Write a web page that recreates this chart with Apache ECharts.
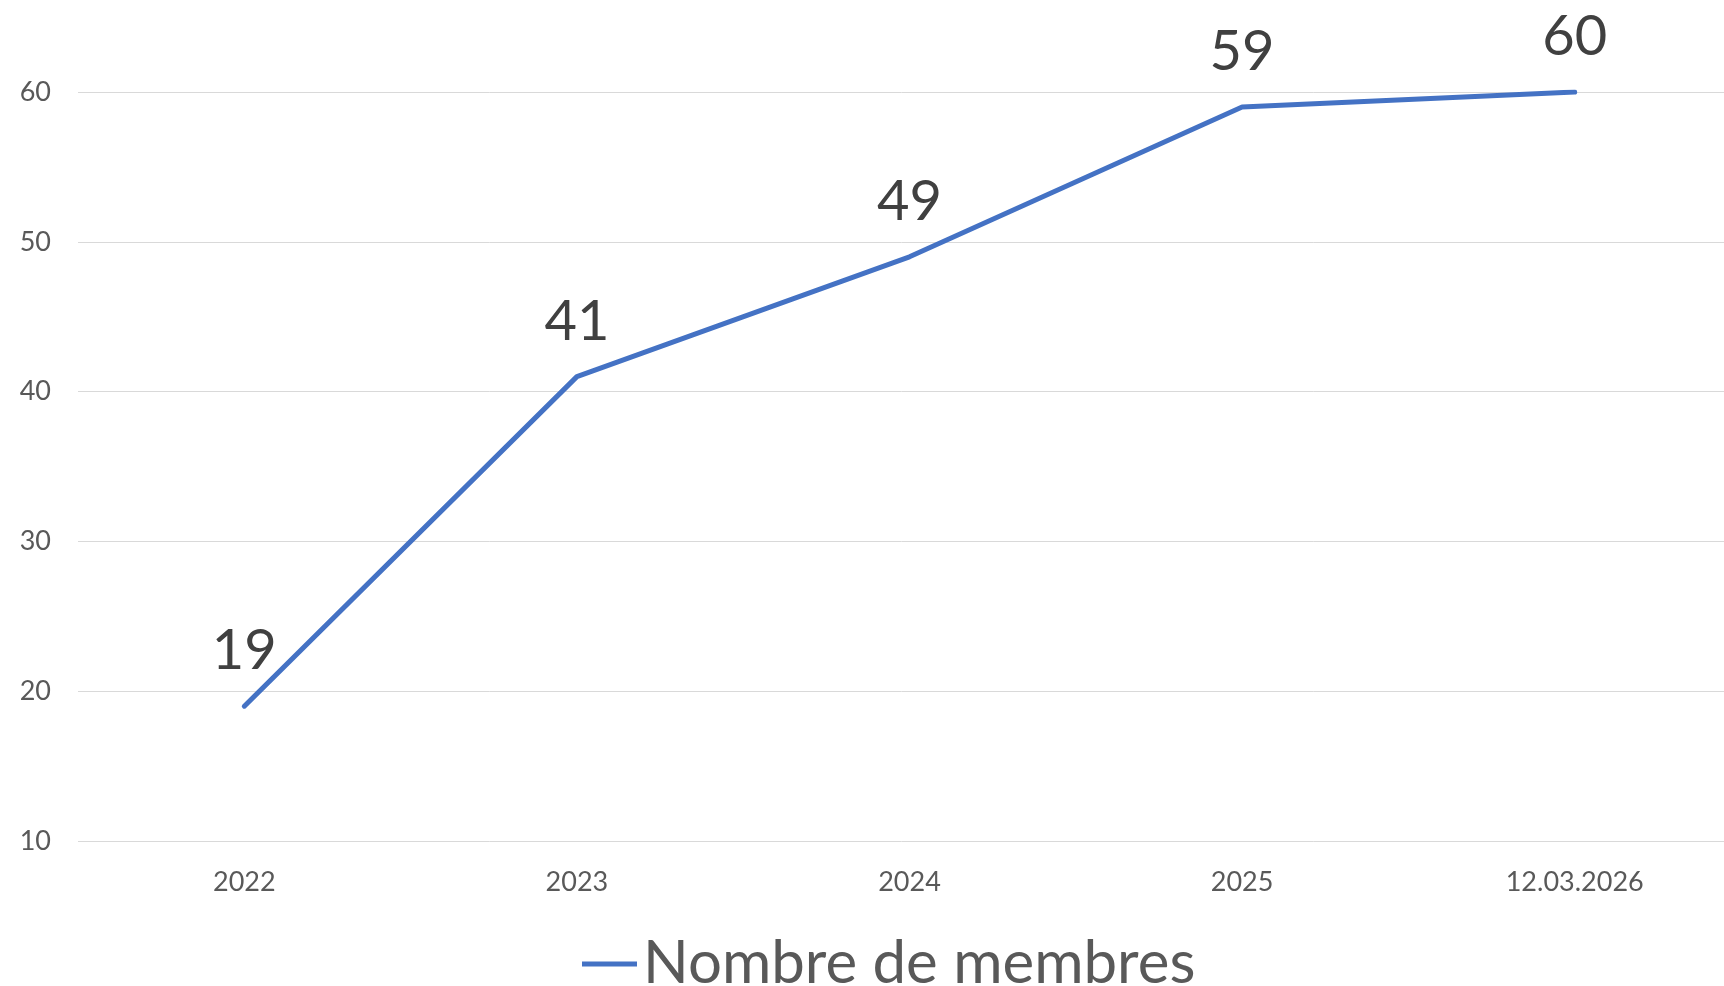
<!DOCTYPE html>
<html>
<head>
<meta charset="utf-8">
<style>
  html, body { margin: 0; padding: 0; background: #ffffff; }
  #chart { width: 1724px; height: 986px; }
</style>
<script src="https://cdn.jsdelivr.net/npm/echarts@6/dist/echarts.min.js"></script>
</head>
<body>
<div id="chart"></div>
<script>
const categories = ['2022', '2023', '2024', '2025', '12.03.2026'];
const members = [19, 41, 49, 59, 60];
const seriesName = 'Nombre de membres';
const yMin = 10, yMax = 60, yInterval = 10;

const chart = echarts.init(document.getElementById('chart'), null, { renderer: 'canvas' });
chart.setOption({
  backgroundColor: '#ffffff',
  animation: false,
  textStyle: { fontFamily: 'Lato' },
  grid: { left: 78, top: 92, width: 1663, bottom: 145, containLabel: false, outerBoundsMode: 'none' },
  legend: {
    show: true,
    left: 577,
    top: 929,
    icon: 'rect',
    itemWidth: 55,
    itemHeight: 5,
    itemGap: 0,
    textStyle: { fontFamily: 'Lato', fontSize: 60, color: '#595959', padding: [0, 0, 0, 1] },
    data: [seriesName]
  },
  xAxis: {
    type: 'category',
    data: categories,
    boundaryGap: true,
    axisLine: { show: false },
    axisTick: { show: false },
    axisLabel: { color: '#595959', fontSize: 27, fontFamily: 'Lato', margin: 28 }
  },
  yAxis: {
    type: 'value',
    min: yMin,
    max: yMax,
    interval: yInterval,
    axisLine: { show: false },
    axisTick: { show: false },
    axisLabel: { color: '#595959', fontSize: 27, fontFamily: 'Lato', margin: 27 },
    splitLine: { show: true, lineStyle: { color: '#D9D9D9', width: 1 } }
  },
  series: [{
    name: seriesName,
    type: 'line',
    data: members,
    showSymbol: true,
    symbol: 'circle',
    symbolSize: 0.1,
    lineStyle: { color: '#4472C4', width: 5, cap: 'round', join: 'round' },
    itemStyle: { color: '#4472C4' },
    label: {
      show: true,
      position: 'top',
      distance: 27,
      fontFamily: 'Lato',
      fontSize: 56,
      lineHeight: 56,
      color: '#404040'
    }
  }]
});
</script>
</body>
</html>
